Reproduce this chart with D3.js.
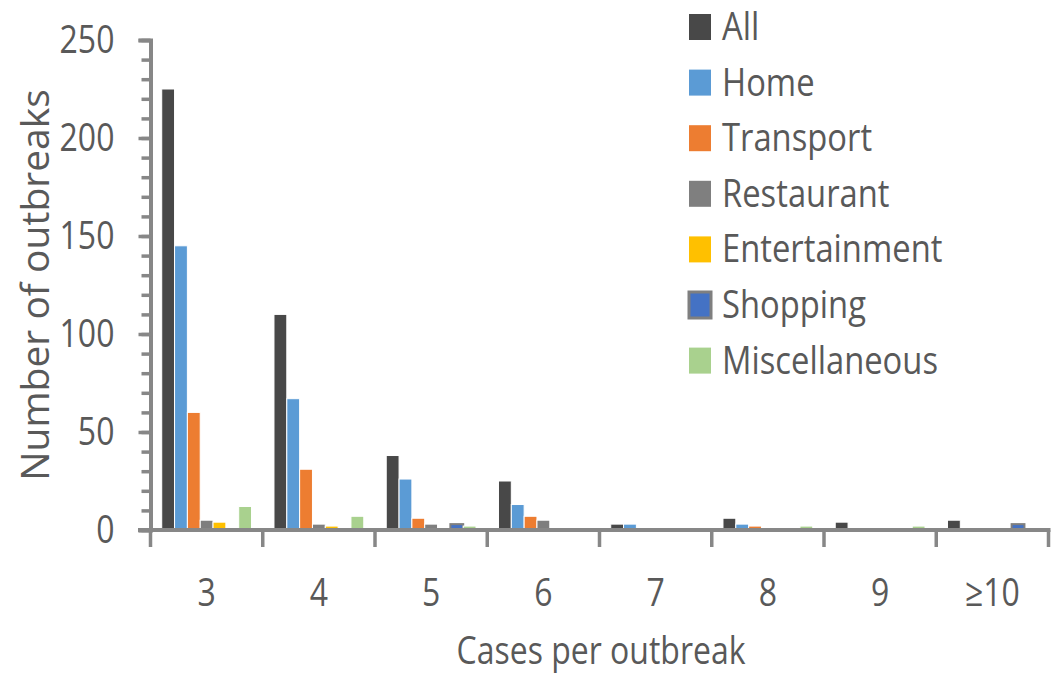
<!DOCTYPE html>
<html>
<head>
<meta charset="utf-8">
<script src="https://cdn.jsdelivr.net/npm/d3@7"></script>
<style>
  body { margin: 0; background: #fff; }
  text { font-family: "Open Sans", sans-serif; fill: #595959; }
</style>
</head>
<body>
<svg id="chart" width="1053" height="675"></svg>
<script>
'use strict';

var categories = ["3", "4", "5", "6", "7", "8", "9", "\u226510"];
var seriesNames = ["All", "Home", "Transport", "Restaurant", "Entertainment", "Shopping", "Miscellaneous"];
var allValues           = [225, 110, 38, 25, 3, 6, 4, 5];
var homeValues          = [145, 67, 26, 13, 3, 3, 0, 0];
var transportValues     = [60, 31, 6, 7, 0, 2, 0, 0];
var restaurantValues    = [5, 3, 3, 5, 0, 0, 0, 0];
var entertainmentValues = [4, 2, 0, 0, 0, 0, 0, 0];
var shoppingValues      = [0, 0, 3, 0, 0, 0, 0, 3];
var miscValues          = [12, 7, 2, 0, 0, 2, 2, 0];
var yTicks = [0, 50, 100, 150, 200, 250];

var seriesValues = [allValues, homeValues, transportValues, restaurantValues,
                    entertainmentValues, shoppingValues, miscValues];
var colors = ["#484848", "#5B9BD5", "#ED7D31", "#7F7F7F", "#FFC000", "#4472C4", "#A9D18E"];
var sx = 0.82; // horizontal squeeze of the original figure's text

var svg = d3.select("#chart");
var axisColor = "#878787";

var x0 = d3.scaleBand().domain(categories).range([150.5, 1048.5])
    .paddingInner(0.2).paddingOuter(0.1);
var x1 = d3.scaleBand().domain(seriesNames).range([0, x0.bandwidth()]);
var y = d3.scaleLinear().domain([0, 250]).range([530, 40]);

// bars
var groups = svg.append("g").attr("class", "bars")
    .selectAll("g")
    .data(categories)
    .enter().append("g")
    .attr("transform", function(d) { return "translate(" + x0(d) + ",0)"; });

groups.selectAll("rect")
    .data(function(d, i) {
        return seriesNames.map(function(s, j) { return {name: s, value: seriesValues[j][i], j: j}; });
    })
    .enter().append("rect")
    .attr("x", function(d) { return x1(d.name); })
    .attr("width", x1.bandwidth())
    .attr("y", function(d) { return y(d.value); })
    .attr("height", function(d) { return y(0) - y(d.value); })
    .style("fill", function(d) { return colors[d.j]; })
    .style("stroke", function(d) { return d.name === "Shopping" ? "#7f7f7f" : "#fff"; })
    .style("stroke-width", function(d) { return d.name === "Shopping" ? 2 : 1; });

// y axis: minor ticks
var minor = d3.range(0, 251, 10);
svg.append("g")
    .attr("transform", "translate(150.5,0)")
    .call(d3.axisLeft(y).tickValues(minor).tickSize(9).tickFormat(""))
    .call(function(g) {
        g.select(".domain").remove();
        g.selectAll("line").style("stroke", axisColor).style("stroke-width", 3.5);
    });

// y axis: major ticks and labels
svg.append("g")
    .attr("transform", "translate(150.5,0)")
    .call(d3.axisLeft(y).tickValues(yTicks).tickSize(12).tickPadding(32))
    .call(function(g) {
        g.select(".domain").style("stroke", axisColor).style("stroke-width", 4);
        g.selectAll("line").style("stroke", axisColor).style("stroke-width", 3.5);
        g.selectAll("text")
            .style("font-size", "39px")
            .style("fill", "#595959")
            .attr("transform", "scale(" + sx + ",1)");
    });

// x axis line and category boundary ticks
var half = (x0.step() - x0.bandwidth()) / 2;
var bounds = categories.map(function(c) { return x0(c) - half; });
bounds.push(x0(categories[categories.length - 1]) + x0.bandwidth() + half);

svg.append("line")
    .attr("x1", 138).attr("x2", bounds[bounds.length - 1] + 2)
    .attr("y1", y(0)).attr("y2", y(0))
    .style("stroke", axisColor).style("stroke-width", 4);

svg.append("g").selectAll("line")
    .data(bounds)
    .enter().append("line")
    .attr("x1", function(d) { return d; }).attr("x2", function(d) { return d; })
    .attr("y1", y(0)).attr("y2", 547)
    .style("stroke", axisColor).style("stroke-width", 3.5);

// x labels
svg.append("g")
    .attr("transform", "translate(0," + y(0) + ")")
    .call(d3.axisBottom(x0).tickSize(0).tickPadding(0))
    .call(function(g) {
        g.select(".domain").remove();
        g.selectAll("text")
            .attr("y", 76).attr("dy", null)
            .style("font-size", "39px")
            .style("fill", "#595959")
            .attr("transform", "scale(" + sx + ",1)")
            .attr("x", 0);
    });

// axis titles
svg.append("text")
    .attr("transform", "translate(601,664) scale(" + sx + ",1)")
    .attr("text-anchor", "middle")
    .style("font-size", "39px")
    .text("Cases per outbreak");

svg.append("text")
    .attr("transform", "translate(49,285) rotate(-90)")
    .attr("text-anchor", "middle")
    .style("font-size", "39px")
    .text("Number of outbreaks");

// legend
var legend = svg.append("g").attr("class", "legend")
    .selectAll("g")
    .data(seriesNames)
    .enter().append("g")
    .attr("transform", function(d, i) { return "translate(689," + (27 + i * 55.6) + ")"; });

legend.append("rect")
    .attr("x", 0).attr("y", -13)
    .attr("width", 22).attr("height", 26)
    .style("fill", function(d, i) { return colors[i]; })
    .style("stroke", function(d) { return d === "Shopping" ? "#7f7f7f" : "none"; })
    .style("stroke-width", 3);

legend.append("text")
    .attr("transform", "translate(33,13) scale(0.84,1)")
    .style("font-size", "39px")
    .text(function(d) { return d; });
</script>
</body>
</html>
